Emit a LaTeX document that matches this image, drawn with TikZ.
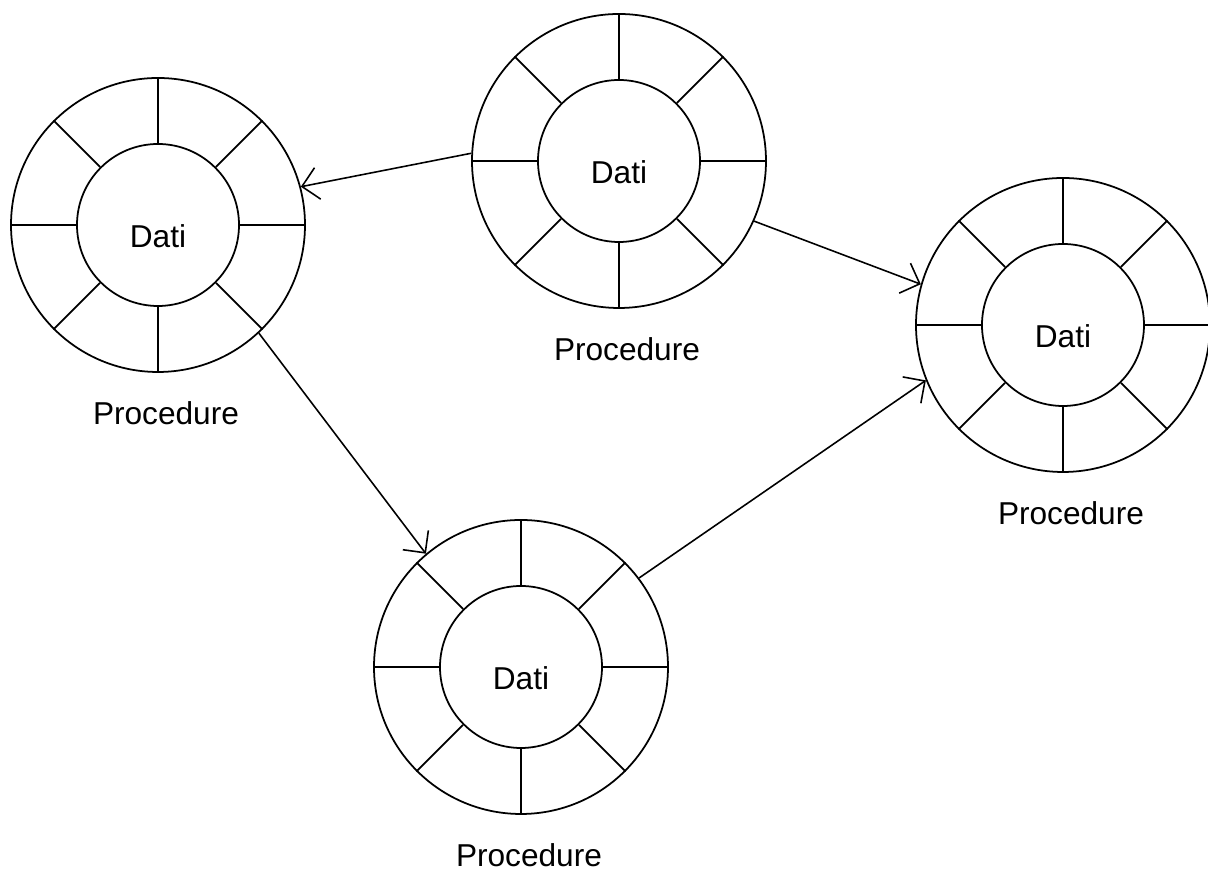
\documentclass[tikz,border=0pt]{standalone}
\usepackage{fontspec}
\setmainfont{Liberation Sans}
\tikzset{node distance=2cm, auto}
\usetikzlibrary{arrows.meta}
\usetikzlibrary{positioning}
\tikzset{
  ring/.style={draw, circle, minimum size=2.94cm, inner sep=0pt, line width=0.5pt},
  core/.style={draw, circle, minimum size=1.62cm, inner sep=0pt, line width=0.5pt},
  word/.style={font=\fontsize{9}{11}\selectfont, inner sep=0pt},
  spoke/.style={line width=0.5pt},
  msg/.style={-{Straight Barb[length=1.6mm, width=3.2mm]}, line width=0.45pt}
}

\begin{document}
\begin{tikzpicture}
  \useasboundingbox (0,0) rectangle (12.08,8.69);
%% left object
  \node[ring] (objL) at (1.58,6.44) {};
  \node[core] (objL-in) at (objL) {};
  \node[word] (objL-d) at ([yshift=-0.11cm]objL.center) {Dati};
  \node[word] (objL-p) at ([xshift=0.08cm, yshift=-1.88cm]objL.center) {Procedure};
  \foreach \a in {0,45,...,315} \draw[spoke] (objL-in.\a) -- (objL.\a);
%% top object
  \node[ring] (objT) at (6.19,7.08) {};
  \node[core] (objT-in) at (objT) {};
  \node[word] (objT-d) at ([yshift=-0.11cm]objT.center) {Dati};
  \node[word] (objT-p) at ([xshift=0.08cm, yshift=-1.88cm]objT.center) {Procedure};
  \foreach \a in {0,45,...,315} \draw[spoke] (objT-in.\a) -- (objT.\a);
%% right object
  \node[ring] (objR) at (10.63,5.44) {};
  \node[core] (objR-in) at (objR) {};
  \node[word] (objR-d) at ([yshift=-0.11cm]objR.center) {Dati};
  \node[word] (objR-p) at ([xshift=0.08cm, yshift=-1.88cm]objR.center) {Procedure};
  \foreach \a in {0,45,...,315} \draw[spoke] (objR-in.\a) -- (objR.\a);
%% bottom object
  \node[ring] (objB) at (5.21,2.02) {};
  \node[core] (objB-in) at (objB) {};
  \node[word] (objB-d) at ([yshift=-0.11cm]objB.center) {Dati};
  \node[word] (objB-p) at ([xshift=0.08cm, yshift=-1.88cm]objB.center) {Procedure};
  \foreach \a in {0,45,...,315} \draw[spoke] (objB-in.\a) -- (objB.\a);
%% messages
  \draw[msg] (objT.177) -- (objL.15);
  \draw[msg] (objT.-24) -- (objR.164);
  \draw[msg] (objL.-47) -- (objB.130);
  \draw[msg] (objB.37) -- (objR.202);
\end{tikzpicture}
\end{document}
